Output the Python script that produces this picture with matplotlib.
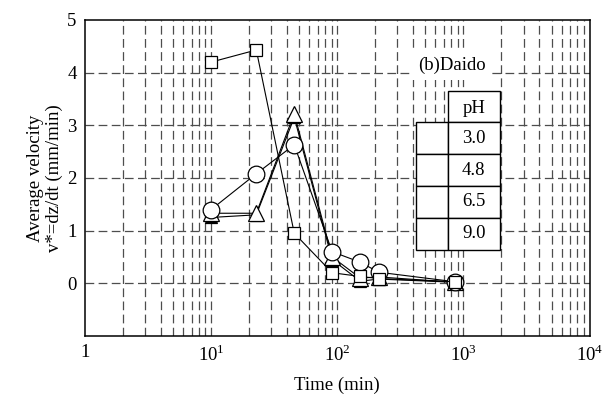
import numpy as np
import matplotlib.pyplot as plt
from matplotlib.patches import Rectangle
from matplotlib.ticker import FixedLocator, FuncFormatter, NullFormatter

plt.rcParams['font.family'] = ['Liberation Serif', 'DejaVu Serif']
plt.rcParams['mathtext.fontset'] = 'custom'
plt.rcParams['mathtext.rm'] = 'Liberation Serif'

# Elapsed time of each measurement (min)
time = [10, 22.8, 45.6, 91, 152, 213, 850]

# Average velocity v* (mm/min) for each pH
v_ph30 = [4.20, 4.43, 0.95, 0.20, 0.13, 0.09, 0.03]
v_ph48 = [1.40, 2.08, 2.63, 0.60, 0.40, 0.21, 0.03]
v_ph65 = [1.33, 1.33, 3.22, 0.50, 0.10, 0.12, 0.02]
v_ph90 = [1.25, 1.30, 3.15, 0.45, 0.04, 0.08, 0.02]

ph_labels = ['3.0', '4.8', '6.5', '9.0']

FS = 13.5

fig = plt.figure(figsize=(6.05, 3.99), dpi=100)
ax = fig.add_axes([0.1405, 0.158, 0.834, 0.792])

ax.set_xscale('log')
ax.set_xlim(1, 1e4)
ax.set_ylim(-1, 5)

# dashed grid on every decade sub-division and integer velocity
grid_kw = dict(color='0.3', lw=0.9, dashes=(7, 3.5), zorder=0)
for dec in [1, 10, 100, 1000]:
    for m in range(1, 10):
        xv = dec * m
        if xv > 1:
            ax.axvline(xv, **grid_kw)
for yv in range(0, 5):
    ax.axhline(yv, **grid_kw)

line_kw = dict(color='black', lw=0.8, markeredgecolor='black', markeredgewidth=0.9)
ax.plot(time, v_ph90, marker='^', ms=9, markerfacecolor='black', zorder=3, **line_kw)
ax.plot(time, v_ph65, marker='^', ms=11, markerfacecolor='white', zorder=4, **line_kw)
ax.plot(time, v_ph48, marker='o', ms=12, markerfacecolor='white', zorder=5, **line_kw)
ax.plot(time, v_ph30, marker='s', ms=8.5, markerfacecolor='white', zorder=6, **line_kw)

ax.xaxis.set_major_locator(FixedLocator([1, 10, 100, 1000, 10000]))
ax.xaxis.set_minor_formatter(NullFormatter())


def decade_label(x, pos):
    e = int(round(np.log10(x)))
    return '1' if e == 0 else r'10$^{%d}$' % e


ax.xaxis.set_major_formatter(FuncFormatter(decade_label))
ax.set_yticks([0, 1, 2, 3, 4, 5])
ax.tick_params(which='both', direction='in', length=0, labelsize=FS, pad=6)

for s in ax.spines.values():
    s.set_linewidth(1.1)

ax.set_xlabel('Time (min)', fontsize=FS, labelpad=8)
ax.set_ylabel('Average velocity\nv*=dz/dt (mm/min)', fontsize=FS, labelpad=3,
              linespacing=1.15)

ax.text(0.727, 0.855, '(b)Daido', transform=ax.transAxes, fontsize=FS,
        ha='center', va='center', zorder=8,
        bbox=dict(facecolor='white', edgecolor='none', pad=4))

# pH table in the upper right
x0, x1, x2 = 0.6555, 0.719, 0.822
row_h = 0.1005
top = 0.6755
ax.add_patch(Rectangle((x1, top), x2 - x1, 0.1, transform=ax.transAxes,
                       facecolor='white', edgecolor='black', lw=1.0, zorder=8))
ax.text((x1 + x2) / 2, top + 0.045, 'pH', transform=ax.transAxes, fontsize=FS,
        ha='center', va='center', zorder=9)
for i, lab in enumerate(ph_labels):
    yb = top - (i + 1) * row_h
    ax.add_patch(Rectangle((x0, yb), x1 - x0, row_h, transform=ax.transAxes,
                           facecolor='white', edgecolor='black', lw=1.0, zorder=8))
    ax.add_patch(Rectangle((x1, yb), x2 - x1, row_h, transform=ax.transAxes,
                           facecolor='white', edgecolor='black', lw=1.0, zorder=8))
    ax.text((x1 + x2) / 2, yb + row_h / 2, lab, transform=ax.transAxes,
            fontsize=FS, ha='center', va='center', zorder=9)

fig.savefig('out.png', dpi=100)
